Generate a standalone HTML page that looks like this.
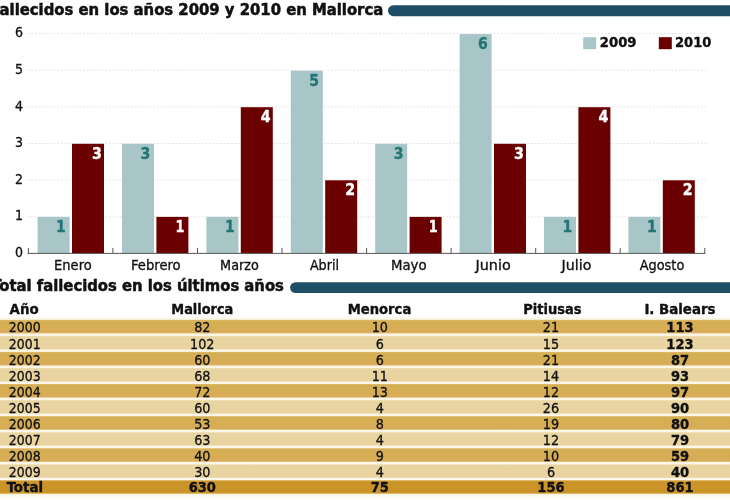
<!DOCTYPE html>
<html lang="es"><head><meta charset="utf-8"><title>Fallecidos en Mallorca</title>
<style>html,body{margin:0;padding:0;background:#fff;overflow:hidden}svg{display:block}text{font-family:"DejaVu Sans Condensed","DejaVu Sans","Liberation Sans",sans-serif;fill:#111;stroke:#111;stroke-width:.3px;stroke-linejoin:round}.b{font-weight:bold;stroke-width:.35px}.t{stroke-width:.5px}</style></head><body>
<svg width="730" height="500" viewBox="0 0 730 500">
<defs><linearGradient id="gd" x1="0" y1="0" x2="0" y2="1"><stop offset="0" stop-color="#dfbd72"/><stop offset="0.1" stop-color="#d5af54"/><stop offset="0.6" stop-color="#d6ad55"/><stop offset="0.9" stop-color="#d9ab59"/><stop offset="1" stop-color="#e2c07a"/></linearGradient><linearGradient id="gl" x1="0" y1="0" x2="0" y2="1"><stop offset="0" stop-color="#efdfb6"/><stop offset="0.1" stop-color="#e9d5a1"/><stop offset="0.9" stop-color="#e8d3a1"/><stop offset="1" stop-color="#eedcb2"/></linearGradient><linearGradient id="gt" x1="0" y1="0" x2="0" y2="1"><stop offset="0" stop-color="#d5a540"/><stop offset="0.1" stop-color="#cb9428"/><stop offset="0.9" stop-color="#cb9428"/><stop offset="1" stop-color="#d4a23c"/></linearGradient><linearGradient id="gc" x1="0" y1="0" x2="0" y2="1"><stop offset="0" stop-color="#ffffff"/><stop offset="1" stop-color="#fbf5e4"/></linearGradient><linearGradient id="gc2" x1="0" y1="0" x2="0" y2="1"><stop offset="0" stop-color="#fbf5e4"/><stop offset="1" stop-color="#ffffff"/></linearGradient></defs>
<rect width="730" height="500" fill="#fff"/>
<text class="b t" x="383.2" y="14.8" font-size="16.5" text-anchor="end" id="t1" textLength="392.84" lengthAdjust="spacingAndGlyphs">Fallecidos en los años 2009 y 2010 en Mallorca</text>
<path d="M393.5 5.2H730V16.2H393.5A5.5 5.5 0 0 1 393.5 5.2Z" fill="#1e4f66"/>
<text x="19.00" y="257.10" font-size="14" textLength="8.01" lengthAdjust="spacingAndGlyphs" text-anchor="middle">0</text>
<line x1="27.5" y1="216.8" x2="708.5" y2="216.8" stroke="#e6e6e6" stroke-width="1" stroke-dasharray="2 1.7"/>
<text x="19.00" y="220.45" font-size="14" textLength="8.01" lengthAdjust="spacingAndGlyphs" text-anchor="middle">1</text>
<line x1="27.5" y1="180.1" x2="708.5" y2="180.1" stroke="#e6e6e6" stroke-width="1" stroke-dasharray="2 1.7"/>
<text x="19.00" y="183.80" font-size="14" textLength="8.01" lengthAdjust="spacingAndGlyphs" text-anchor="middle">2</text>
<line x1="27.5" y1="143.5" x2="708.5" y2="143.5" stroke="#e6e6e6" stroke-width="1" stroke-dasharray="2 1.7"/>
<text x="19.00" y="147.15" font-size="14" textLength="8.01" lengthAdjust="spacingAndGlyphs" text-anchor="middle">3</text>
<line x1="27.5" y1="106.8" x2="708.5" y2="106.8" stroke="#e6e6e6" stroke-width="1" stroke-dasharray="2 1.7"/>
<text x="19.00" y="110.50" font-size="14" textLength="8.01" lengthAdjust="spacingAndGlyphs" text-anchor="middle">4</text>
<line x1="27.5" y1="70.2" x2="708.5" y2="70.2" stroke="#e6e6e6" stroke-width="1" stroke-dasharray="2 1.7"/>
<text x="19.00" y="73.85" font-size="14" textLength="8.01" lengthAdjust="spacingAndGlyphs" text-anchor="middle">5</text>
<line x1="27.5" y1="33.5" x2="708.5" y2="33.5" stroke="#e6e6e6" stroke-width="1" stroke-dasharray="2 1.7"/>
<text x="19.00" y="37.20" font-size="14" textLength="8.01" lengthAdjust="spacingAndGlyphs" text-anchor="middle">6</text>
<rect x="37.6" y="216.9" width="32" height="36.5" fill="#a8c6c7"/>
<rect x="72.0" y="143.8" width="32" height="109.6" fill="#6b0000"/>
<text x="61.00" y="231.85" font-size="15" textLength="9.77" lengthAdjust="spacingAndGlyphs" text-anchor="middle" class="b" style="fill:#247676;stroke:#247676">1</text>
<text x="97.00" y="158.75" font-size="15" textLength="9.86" lengthAdjust="spacingAndGlyphs" text-anchor="middle" class="b" style="fill:#fff;stroke:#fff">3</text>
<text x="72.90" y="270.00" font-size="14" textLength="37.60" lengthAdjust="spacingAndGlyphs" text-anchor="middle">Enero</text>
<rect x="122.0" y="143.8" width="32" height="109.6" fill="#a8c6c7"/>
<rect x="156.4" y="216.9" width="32" height="36.5" fill="#6b0000"/>
<text x="145.40" y="158.75" font-size="15" textLength="9.77" lengthAdjust="spacingAndGlyphs" text-anchor="middle" class="b" style="fill:#247676;stroke:#247676">3</text>
<text x="180.00" y="231.85" font-size="15" textLength="8.92" lengthAdjust="spacingAndGlyphs" text-anchor="middle" class="b" style="fill:#fff;stroke:#fff">1</text>
<text x="155.85" y="270.00" font-size="14" textLength="49.50" lengthAdjust="spacingAndGlyphs" text-anchor="middle">Febrero</text>
<rect x="206.4" y="216.9" width="32" height="36.5" fill="#a8c6c7"/>
<rect x="240.8" y="107.2" width="32" height="146.2" fill="#6b0000"/>
<text x="229.80" y="231.85" font-size="15" textLength="9.77" lengthAdjust="spacingAndGlyphs" text-anchor="middle" class="b" style="fill:#247676;stroke:#247676">1</text>
<text x="265.80" y="122.20" font-size="15" textLength="9.86" lengthAdjust="spacingAndGlyphs" text-anchor="middle" class="b" style="fill:#fff;stroke:#fff">4</text>
<text x="239.45" y="270.00" font-size="14" textLength="38.70" lengthAdjust="spacingAndGlyphs" text-anchor="middle">Marzo</text>
<rect x="290.8" y="70.7" width="32" height="182.8" fill="#a8c6c7"/>
<rect x="325.2" y="180.3" width="32" height="73.1" fill="#6b0000"/>
<text x="314.20" y="85.65" font-size="15" textLength="9.77" lengthAdjust="spacingAndGlyphs" text-anchor="middle" class="b" style="fill:#247676;stroke:#247676">5</text>
<text x="350.20" y="195.30" font-size="15" textLength="9.86" lengthAdjust="spacingAndGlyphs" text-anchor="middle" class="b" style="fill:#fff;stroke:#fff">2</text>
<text x="324.45" y="270.00" font-size="14" textLength="29.10" lengthAdjust="spacingAndGlyphs" text-anchor="middle">Abril</text>
<rect x="375.2" y="143.8" width="32" height="109.6" fill="#a8c6c7"/>
<rect x="409.6" y="216.9" width="32" height="36.5" fill="#6b0000"/>
<text x="398.60" y="158.75" font-size="15" textLength="9.77" lengthAdjust="spacingAndGlyphs" text-anchor="middle" class="b" style="fill:#247676;stroke:#247676">3</text>
<text x="433.20" y="231.85" font-size="15" textLength="8.92" lengthAdjust="spacingAndGlyphs" text-anchor="middle" class="b" style="fill:#fff;stroke:#fff">1</text>
<text x="408.80" y="270.00" font-size="14" textLength="35.60" lengthAdjust="spacingAndGlyphs" text-anchor="middle">Mayo</text>
<rect x="459.6" y="34.1" width="32" height="219.3" fill="#a8c6c7"/>
<rect x="494.0" y="143.8" width="32" height="109.6" fill="#6b0000"/>
<text x="483.00" y="49.10" font-size="15" textLength="9.77" lengthAdjust="spacingAndGlyphs" text-anchor="middle" class="b" style="fill:#247676;stroke:#247676">6</text>
<text x="519.00" y="158.75" font-size="15" textLength="9.86" lengthAdjust="spacingAndGlyphs" text-anchor="middle" class="b" style="fill:#fff;stroke:#fff">3</text>
<text x="493.10" y="270.00" font-size="14" textLength="35.20" lengthAdjust="spacingAndGlyphs" text-anchor="middle">Junio</text>
<rect x="544.0" y="216.9" width="32" height="36.5" fill="#a8c6c7"/>
<rect x="578.4" y="107.2" width="32" height="146.2" fill="#6b0000"/>
<text x="567.40" y="231.85" font-size="15" textLength="9.77" lengthAdjust="spacingAndGlyphs" text-anchor="middle" class="b" style="fill:#247676;stroke:#247676">1</text>
<text x="603.40" y="122.20" font-size="15" textLength="9.86" lengthAdjust="spacingAndGlyphs" text-anchor="middle" class="b" style="fill:#fff;stroke:#fff">4</text>
<text x="576.50" y="270.00" font-size="14" textLength="29.80" lengthAdjust="spacingAndGlyphs" text-anchor="middle">Julio</text>
<rect x="628.4" y="216.9" width="32" height="36.5" fill="#a8c6c7"/>
<rect x="662.8" y="180.3" width="32" height="73.1" fill="#6b0000"/>
<text x="651.80" y="231.85" font-size="15" textLength="9.77" lengthAdjust="spacingAndGlyphs" text-anchor="middle" class="b" style="fill:#247676;stroke:#247676">1</text>
<text x="687.80" y="195.30" font-size="15" textLength="9.86" lengthAdjust="spacingAndGlyphs" text-anchor="middle" class="b" style="fill:#fff;stroke:#fff">2</text>
<text x="662.00" y="270.00" font-size="14" textLength="44.60" lengthAdjust="spacingAndGlyphs" text-anchor="middle">Agosto</text>
<path d="M27.5 253.4H705.3M28.4 253.4V247.9M112.9 253.4V247.9M197.5 253.4V247.9M282.0 253.4V247.9M366.6 253.4V247.9M451.1 253.4V247.9M535.7 253.4V247.9M620.2 253.4V247.9M704.8 253.4V247.9" stroke="#555" stroke-width="1" fill="none"/>
<rect x="583.2" y="37.2" width="13" height="12" fill="#a8c6c7"/>
<text x="618.15" y="46.60" font-size="14" textLength="36.70" lengthAdjust="spacingAndGlyphs" text-anchor="middle" class="b">2009</text>
<rect x="658.8" y="37.2" width="13" height="12" fill="#6b0000"/>
<text x="693.15" y="46.60" font-size="14" textLength="36.30" lengthAdjust="spacingAndGlyphs" text-anchor="middle" class="b">2010</text>
<text class="b t" x="283.9" y="291.1" font-size="16.5" text-anchor="end" id="t2" textLength="292.51" lengthAdjust="spacingAndGlyphs">Total fallecidos en los últimos años</text>
<path d="M295.5 282.2H730V293H295.5A5.4 5.4 0 0 1 295.5 282.2Z" fill="#1e4f66"/>
<text x="24.15" y="313.90" font-size="14" textLength="29.10" lengthAdjust="spacingAndGlyphs" text-anchor="middle" class="b">Año</text>
<text x="202.30" y="313.90" font-size="14" textLength="62.00" lengthAdjust="spacingAndGlyphs" text-anchor="middle" class="b">Mallorca</text>
<text x="379.50" y="313.90" font-size="14" textLength="63.60" lengthAdjust="spacingAndGlyphs" text-anchor="middle" class="b">Menorca</text>
<text x="552.45" y="313.90" font-size="14" textLength="58.30" lengthAdjust="spacingAndGlyphs" text-anchor="middle" class="b">Pitiusas</text>
<text x="679.95" y="313.90" font-size="14" textLength="71.10" lengthAdjust="spacingAndGlyphs" text-anchor="middle" class="b">I. Balears</text>
<rect x="0" y="316" width="730" height="4" fill="url(#gc)"/>
<rect x="0" y="320" width="730" height="174" fill="#fcf7e8"/>
<rect x="0" y="494" width="730" height="6" fill="url(#gc2)"/>
<rect x="0" y="319.80" width="730" height="13.7" fill="url(#gd)"/>
<text x="24.70" y="332.45" font-size="14.4" textLength="31.80" lengthAdjust="spacingAndGlyphs" text-anchor="middle">2000</text>
<text x="202.30" y="332.45" font-size="14.4" textLength="16.32" lengthAdjust="spacingAndGlyphs" text-anchor="middle">82</text>
<text x="379.80" y="332.45" font-size="14.4" textLength="16.32" lengthAdjust="spacingAndGlyphs" text-anchor="middle">10</text>
<text x="551.00" y="332.45" font-size="14.4" textLength="16.32" lengthAdjust="spacingAndGlyphs" text-anchor="middle">21</text>
<text x="680.00" y="332.45" font-size="14.4" textLength="27.31" lengthAdjust="spacingAndGlyphs" text-anchor="middle" class="b">113</text>
<rect x="0" y="335.85" width="730" height="13.7" fill="url(#gl)"/>
<text x="24.70" y="348.50" font-size="14.4" textLength="31.80" lengthAdjust="spacingAndGlyphs" text-anchor="middle">2001</text>
<text x="202.30" y="348.50" font-size="14.4" textLength="24.47" lengthAdjust="spacingAndGlyphs" text-anchor="middle">102</text>
<text x="379.80" y="348.50" font-size="14.4" textLength="8.16" lengthAdjust="spacingAndGlyphs" text-anchor="middle">6</text>
<text x="551.00" y="348.50" font-size="14.4" textLength="16.32" lengthAdjust="spacingAndGlyphs" text-anchor="middle">15</text>
<text x="680.00" y="348.50" font-size="14.4" textLength="27.31" lengthAdjust="spacingAndGlyphs" text-anchor="middle" class="b">123</text>
<rect x="0" y="351.90" width="730" height="13.7" fill="url(#gd)"/>
<text x="24.70" y="364.55" font-size="14.4" textLength="31.80" lengthAdjust="spacingAndGlyphs" text-anchor="middle">2002</text>
<text x="202.30" y="364.55" font-size="14.4" textLength="16.32" lengthAdjust="spacingAndGlyphs" text-anchor="middle">60</text>
<text x="379.80" y="364.55" font-size="14.4" textLength="8.16" lengthAdjust="spacingAndGlyphs" text-anchor="middle">6</text>
<text x="551.00" y="364.55" font-size="14.4" textLength="16.32" lengthAdjust="spacingAndGlyphs" text-anchor="middle">21</text>
<text x="680.00" y="364.55" font-size="14.4" textLength="18.21" lengthAdjust="spacingAndGlyphs" text-anchor="middle" class="b">87</text>
<rect x="0" y="367.95" width="730" height="13.7" fill="url(#gl)"/>
<text x="24.70" y="380.60" font-size="14.4" textLength="31.80" lengthAdjust="spacingAndGlyphs" text-anchor="middle">2003</text>
<text x="202.30" y="380.60" font-size="14.4" textLength="16.32" lengthAdjust="spacingAndGlyphs" text-anchor="middle">68</text>
<text x="379.80" y="380.60" font-size="14.4" textLength="16.32" lengthAdjust="spacingAndGlyphs" text-anchor="middle">11</text>
<text x="551.00" y="380.60" font-size="14.4" textLength="16.32" lengthAdjust="spacingAndGlyphs" text-anchor="middle">14</text>
<text x="680.00" y="380.60" font-size="14.4" textLength="18.21" lengthAdjust="spacingAndGlyphs" text-anchor="middle" class="b">93</text>
<rect x="0" y="384.00" width="730" height="13.7" fill="url(#gd)"/>
<text x="24.70" y="396.65" font-size="14.4" textLength="31.80" lengthAdjust="spacingAndGlyphs" text-anchor="middle">2004</text>
<text x="202.30" y="396.65" font-size="14.4" textLength="16.32" lengthAdjust="spacingAndGlyphs" text-anchor="middle">72</text>
<text x="379.80" y="396.65" font-size="14.4" textLength="16.32" lengthAdjust="spacingAndGlyphs" text-anchor="middle">13</text>
<text x="551.00" y="396.65" font-size="14.4" textLength="16.32" lengthAdjust="spacingAndGlyphs" text-anchor="middle">12</text>
<text x="680.00" y="396.65" font-size="14.4" textLength="18.21" lengthAdjust="spacingAndGlyphs" text-anchor="middle" class="b">97</text>
<rect x="0" y="400.05" width="730" height="13.7" fill="url(#gl)"/>
<text x="24.70" y="412.70" font-size="14.4" textLength="31.80" lengthAdjust="spacingAndGlyphs" text-anchor="middle">2005</text>
<text x="202.30" y="412.70" font-size="14.4" textLength="16.32" lengthAdjust="spacingAndGlyphs" text-anchor="middle">60</text>
<text x="379.80" y="412.70" font-size="14.4" textLength="8.16" lengthAdjust="spacingAndGlyphs" text-anchor="middle">4</text>
<text x="551.00" y="412.70" font-size="14.4" textLength="16.32" lengthAdjust="spacingAndGlyphs" text-anchor="middle">26</text>
<text x="680.00" y="412.70" font-size="14.4" textLength="18.21" lengthAdjust="spacingAndGlyphs" text-anchor="middle" class="b">90</text>
<rect x="0" y="416.10" width="730" height="13.7" fill="url(#gd)"/>
<text x="24.70" y="428.75" font-size="14.4" textLength="31.80" lengthAdjust="spacingAndGlyphs" text-anchor="middle">2006</text>
<text x="202.30" y="428.75" font-size="14.4" textLength="16.32" lengthAdjust="spacingAndGlyphs" text-anchor="middle">53</text>
<text x="379.80" y="428.75" font-size="14.4" textLength="8.16" lengthAdjust="spacingAndGlyphs" text-anchor="middle">8</text>
<text x="551.00" y="428.75" font-size="14.4" textLength="16.32" lengthAdjust="spacingAndGlyphs" text-anchor="middle">19</text>
<text x="680.00" y="428.75" font-size="14.4" textLength="18.21" lengthAdjust="spacingAndGlyphs" text-anchor="middle" class="b">80</text>
<rect x="0" y="432.15" width="730" height="13.7" fill="url(#gl)"/>
<text x="24.70" y="444.80" font-size="14.4" textLength="31.80" lengthAdjust="spacingAndGlyphs" text-anchor="middle">2007</text>
<text x="202.30" y="444.80" font-size="14.4" textLength="16.32" lengthAdjust="spacingAndGlyphs" text-anchor="middle">63</text>
<text x="379.80" y="444.80" font-size="14.4" textLength="8.16" lengthAdjust="spacingAndGlyphs" text-anchor="middle">4</text>
<text x="551.00" y="444.80" font-size="14.4" textLength="16.32" lengthAdjust="spacingAndGlyphs" text-anchor="middle">12</text>
<text x="680.00" y="444.80" font-size="14.4" textLength="18.21" lengthAdjust="spacingAndGlyphs" text-anchor="middle" class="b">79</text>
<rect x="0" y="448.20" width="730" height="13.7" fill="url(#gd)"/>
<text x="24.70" y="460.85" font-size="14.4" textLength="31.80" lengthAdjust="spacingAndGlyphs" text-anchor="middle">2008</text>
<text x="202.30" y="460.85" font-size="14.4" textLength="16.32" lengthAdjust="spacingAndGlyphs" text-anchor="middle">40</text>
<text x="379.80" y="460.85" font-size="14.4" textLength="8.16" lengthAdjust="spacingAndGlyphs" text-anchor="middle">9</text>
<text x="551.00" y="460.85" font-size="14.4" textLength="16.32" lengthAdjust="spacingAndGlyphs" text-anchor="middle">10</text>
<text x="680.00" y="460.85" font-size="14.4" textLength="18.21" lengthAdjust="spacingAndGlyphs" text-anchor="middle" class="b">59</text>
<rect x="0" y="464.25" width="730" height="13.7" fill="url(#gl)"/>
<text x="24.70" y="476.90" font-size="14.4" textLength="31.80" lengthAdjust="spacingAndGlyphs" text-anchor="middle">2009</text>
<text x="202.30" y="476.90" font-size="14.4" textLength="16.32" lengthAdjust="spacingAndGlyphs" text-anchor="middle">30</text>
<text x="379.80" y="476.90" font-size="14.4" textLength="8.16" lengthAdjust="spacingAndGlyphs" text-anchor="middle">4</text>
<text x="551.00" y="476.90" font-size="14.4" textLength="8.16" lengthAdjust="spacingAndGlyphs" text-anchor="middle">6</text>
<text x="680.00" y="476.90" font-size="14.4" textLength="18.21" lengthAdjust="spacingAndGlyphs" text-anchor="middle" class="b">40</text>
<rect x="0" y="480.30" width="730" height="13.4" fill="url(#gt)"/>
<text x="24.85" y="491.80" font-size="14.3" textLength="36.30" lengthAdjust="spacingAndGlyphs" text-anchor="middle" class="b">Total</text>
<text x="202.30" y="491.80" font-size="14.4" textLength="27.31" lengthAdjust="spacingAndGlyphs" text-anchor="middle" class="b">630</text>
<text x="379.80" y="491.80" font-size="14.4" textLength="18.21" lengthAdjust="spacingAndGlyphs" text-anchor="middle" class="b">75</text>
<text x="551.00" y="491.80" font-size="14.4" textLength="27.31" lengthAdjust="spacingAndGlyphs" text-anchor="middle" class="b">156</text>
<text x="680.00" y="491.80" font-size="14.4" textLength="27.31" lengthAdjust="spacingAndGlyphs" text-anchor="middle" class="b">861</text>
</svg></body></html>
